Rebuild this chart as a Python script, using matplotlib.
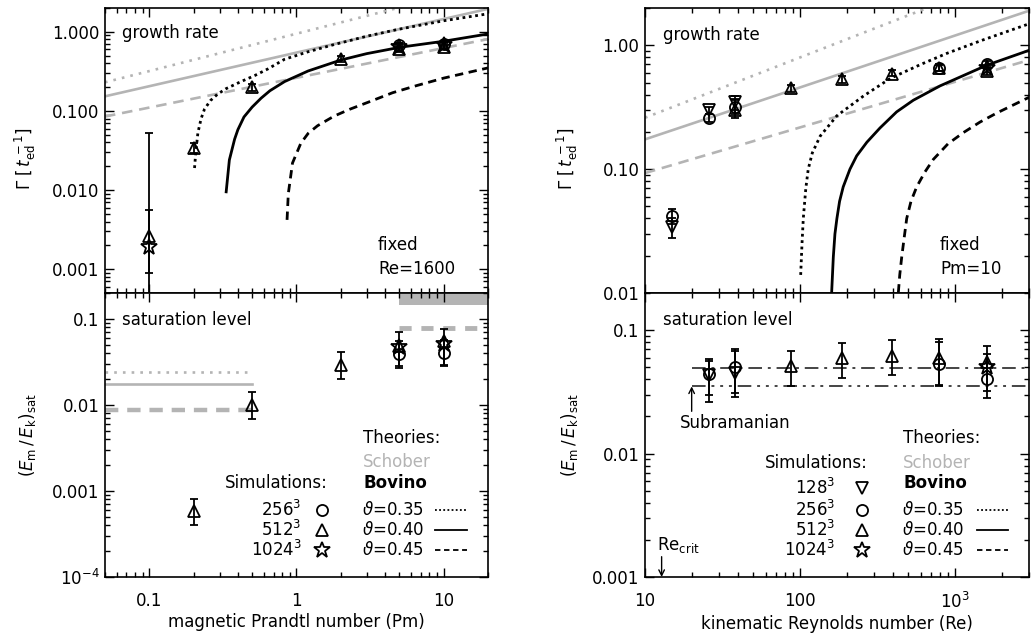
import numpy as np
import matplotlib
matplotlib.use('Agg')
import matplotlib.pyplot as plt
from matplotlib.ticker import LogLocator, NullFormatter

plt.rcParams['font.family'] = ['DejaVu Sans']
plt.rcParams['mathtext.fontset'] = 'dejavusans'

GRAY = '#b4b4b4'

# ================= DATA =================
# --- growth rate vs Pm (Re = 1600) ---
pmG_256 = [5, 10]
gPm_256 = [0.68, 0.70]
gPm_256_lo = [0.64, 0.66]
gPm_256_hi = [0.72, 0.74]
pmG_512 = [0.1, 0.2, 0.5, 2, 5, 10]
gPm_512 = [0.0026, 0.034, 0.20, 0.45, 0.61, 0.65]
gPm_512_lo = [0.0009, 0.029, 0.18, 0.41, 0.55, 0.60]
gPm_512_hi = [0.0056, 0.039, 0.22, 0.49, 0.68, 0.71]
pmG_1024 = [0.1, 5, 10]
gPm_1024 = [0.0019, 0.65, 0.68]
gPm_1024_lo = [0.00001, 0.60, 0.63]
gPm_1024_hi = [0.052, 0.72, 0.74]

# theory curves (growth rate vs Pm)
schPm_x = [0.05, 20]
schPm_035 = [0.23, 3.9]
schPm_040 = [0.153, 1.95]
schPm_045 = [0.085, 0.81]
bovPm_035_x = [0.203, 0.207, 0.214, 0.225, 0.237, 0.26, 0.29, 0.33, 0.42, 0.52, 0.64, 0.83,
               1.2, 1.8, 3.0, 4.85, 10, 20]
bovPm_035_y = [0.019, 0.030, 0.053, 0.080, 0.105, 0.135, 0.162, 0.19, 0.235, 0.28, 0.34, 0.45,
               0.56, 0.69, 0.88, 1.07, 1.38, 1.69]
bovPm_040_x = [0.333, 0.35, 0.38, 0.40, 0.44, 0.50, 0.575, 0.66, 0.83, 1.2, 2.0, 3.0, 5.1,
               10, 20]
bovPm_040_y = [0.0095, 0.024, 0.044, 0.058, 0.084, 0.112, 0.145, 0.180, 0.235, 0.32, 0.44,
               0.53, 0.64, 0.76, 0.94]
bovPm_045_x = [0.863, 0.88, 0.94, 1.07, 1.2, 1.39, 1.8, 2.3, 3.04, 4.5, 6.6, 10, 20]
bovPm_045_y = [0.0042, 0.009, 0.022, 0.039, 0.052, 0.065, 0.086, 0.105, 0.128, 0.17, 0.21,
               0.26, 0.35]

# --- saturation level vs Pm ---
pmS_256 = [5, 10]
sPm_256 = [0.039, 0.040]
sPm_256_lo = [0.028, 0.029]
sPm_256_hi = [0.055, 0.057]
pmS_512 = [0.2, 0.5, 2, 5, 10]
sPm_512 = [5.9e-4, 0.0100, 0.029, 0.049, 0.055]
sPm_512_lo = [4.0e-4, 0.0068, 0.020, 0.027, 0.028]
sPm_512_hi = [8.0e-4, 0.014, 0.041, 0.070, 0.076]
pmS_1024 = [5, 10]
sPm_1024 = [0.047, 0.051]

schSat_low_x = [0.05, 0.5]
schSat_low_035 = 0.024
schSat_low_040 = 0.0174
schSat_low_045 = 0.0088
schSat_high_x = [5, 20]
schSat_high_band = [0.146, 0.2]
schSat_high_045 = 0.079

# --- growth rate vs Re (Pm = 10) ---
reG_128 = [15, 26, 38]
gRe_128 = [0.034, 0.30, 0.35]
gRe_128_lo = [0.028, 0.28, 0.30]
gRe_128_hi = [0.040, 0.32, 0.39]
reG_256 = [15, 26, 38, 790, 1600]
gRe_256 = [0.042, 0.26, 0.32, 0.66, 0.70]
gRe_256_lo = [0.036, 0.24, 0.28, 0.62, 0.66]
gRe_256_hi = [0.048, 0.28, 0.36, 0.70, 0.74]
reG_512 = [38, 87, 187, 390, 790, 1600]
gRe_512 = [0.30, 0.45, 0.53, 0.59, 0.65, 0.62]
gRe_512_lo = [0.26, 0.42, 0.50, 0.56, 0.62, 0.58]
gRe_512_hi = [0.37, 0.48, 0.57, 0.63, 0.69, 0.67]
reG_1024 = [1600]
gRe_1024 = [0.65]

schRe_x035 = [10, 660]
schRe_035 = [0.26, 2.0]
schRe_x = [10, 3000]
schRe_040 = [0.174, 1.9]
schRe_045 = [0.093, 0.76]
bovRe_035_x = [101, 103, 105, 109, 113, 120, 135, 173, 257, 382, 600, 884, 1500, 3000]
bovRe_035_y = [0.014, 0.025, 0.040, 0.070, 0.100, 0.135, 0.185, 0.27, 0.39, 0.54, 0.70,
               0.86, 1.10, 1.49]
bovRe_040_x = [160, 164, 168, 173, 180, 190, 210, 232, 270, 328, 420, 538, 800, 1600, 3000]
bovRe_040_y = [0.0101, 0.0195, 0.030, 0.040, 0.055, 0.072, 0.100, 0.128, 0.165, 0.215,
               0.29, 0.36, 0.47, 0.69, 0.91]
bovRe_045_x = [431, 440, 453, 470, 488, 520, 566, 640, 725, 900, 1130, 1450, 1860, 3000]
bovRe_045_y = [0.0101, 0.014, 0.0195, 0.028, 0.040, 0.055, 0.072, 0.095, 0.12, 0.16, 0.197,
               0.24, 0.284, 0.38]

# --- saturation level vs Re ---
reS_128 = [26, 38]
sRe_128 = [0.043, 0.045]
sRe_128_lo = [0.026, 0.029]
sRe_128_hi = [0.058, 0.070]
reS_256 = [26, 38, 790, 1600]
sRe_256 = [0.044, 0.050, 0.053, 0.040]
sRe_256_lo = [0.030, 0.031, 0.035, 0.028]
sRe_256_hi = [0.056, 0.068, 0.080, 0.064]
reS_512 = [87, 187, 390, 790, 1600]
sRe_512 = [0.051, 0.060, 0.062, 0.060, 0.055]
sRe_512_lo = [0.035, 0.041, 0.043, 0.036, 0.032]
sRe_512_hi = [0.068, 0.079, 0.083, 0.085, 0.075]
reS_1024 = [1600]
sRe_1024 = [0.050]

subr_x = [20, 3000]
subr_upper = 0.049
subr_lower = 0.035
subr_arrow_from = 0.022
re_crit = 12.8

# tick labels
pm_ticks = [0.1, 1, 10]
pm_ticklabels = ['0.1', '1', '10']
re_ticks = [10, 100, 1000]
re_ticklabels = ['10', '100', r'$10^3$']
gPm_ticks = [0.001, 0.01, 0.1, 1]
gPm_ticklabels = ['0.001', '0.010', '0.100', '1.000']
sPm_ticks = [1e-4, 0.001, 0.01, 0.1]
sPm_ticklabels = [r'$10^{-4}$', '0.001', '0.01', '0.1']
gRe_ticks = [0.01, 0.1, 1]
gRe_ticklabels = ['0.01', '0.10', '1.00']
sRe_ticks = [0.001, 0.01, 0.1]
sRe_ticklabels = ['0.001', '0.01', '0.1']

# ================= PLOT =================
fig = plt.figure(figsize=(10.33, 6.36), dpi=100)
axLT = fig.add_axes([0.1016, 0.5393, 0.3708, 0.4481])
axLB = fig.add_axes([0.1016, 0.0928, 0.3708, 0.4465])
axRT = fig.add_axes([0.6244, 0.5393, 0.3717, 0.4481])
axRB = fig.add_axes([0.6244, 0.0928, 0.3717, 0.4465])

FS = 12


def style(ax, xlim, ylim, xt, xtl, yt, ytl, showx):
    ax.set_xscale('log')
    ax.set_yscale('log')
    ax.set_xlim(*xlim)
    ax.set_ylim(*ylim)
    ax.set_xticks(xt)
    ax.set_xticklabels(xtl if showx else [''] * len(xt))
    ax.set_yticks(yt)
    ax.set_yticklabels(ytl)
    for a in (ax.xaxis, ax.yaxis):
        a.set_minor_locator(LogLocator(base=10, subs=np.arange(2, 10), numticks=50))
        a.set_minor_formatter(NullFormatter())
    ax.tick_params(which='both', direction='in', top=True, right=True, width=1.0)
    ax.tick_params(which='major', length=6.5, labelsize=FS)
    ax.tick_params(axis='x', which='major', pad=11)
    ax.tick_params(axis='y', which='major', pad=4)
    ax.tick_params(which='minor', length=3.5)
    for s in ax.spines.values():
        s.set_linewidth(1.2)


def errpts(ax, x, y, lo, hi):
    y = np.asarray(y, float)
    ax.errorbar(x, y, yerr=[y - np.asarray(lo), np.asarray(hi) - y], fmt='none',
                ecolor='k', elinewidth=1.3, capsize=3, capthick=1.3, zorder=4)


MK = dict(ls='none', mfc='none', mec='k', mew=1.3, zorder=5)
MSZ = {'o': 8, '^': 8.5, 'v': 8.5, '*': 12}


def pts(ax, x, y, m):
    ax.plot(x, y, marker=m, ms=MSZ[m], **MK)


DOT_G = dict(color=GRAY, lw=1.9, dashes=(1, 2.3))
SOL_G = dict(color=GRAY, lw=1.9)
DSH_G = dict(color=GRAY, lw=1.9, dashes=(4, 2.6))
DOT_K = dict(color='k', lw=2.0, dashes=(1, 1.3))
SOL_K = dict(color='k', lw=2.0)
DSH_K = dict(color='k', lw=2.0, dashes=(3, 2))

# ---- left top ----
ax = axLT
style(ax, (0.05, 20), (5e-4, 2), pm_ticks, pm_ticklabels, gPm_ticks, gPm_ticklabels, False)
ax.plot(schPm_x, schPm_035, **DOT_G)
ax.plot(schPm_x, schPm_040, **SOL_G)
ax.plot(schPm_x, schPm_045, **DSH_G)
ax.plot(bovPm_035_x, bovPm_035_y, **DOT_K)
ax.plot(bovPm_040_x, bovPm_040_y, **SOL_K)
ax.plot(bovPm_045_x, bovPm_045_y, **DSH_K)
errpts(ax, pmG_1024, gPm_1024, gPm_1024_lo, gPm_1024_hi)
errpts(ax, pmG_512, gPm_512, gPm_512_lo, gPm_512_hi)
errpts(ax, pmG_256, gPm_256, gPm_256_lo, gPm_256_hi)
pts(ax, pmG_256, gPm_256, 'o')
pts(ax, pmG_512, gPm_512, '^')
pts(ax, pmG_1024, gPm_1024, '*')
ax.text(0.044, 0.912, 'growth rate', transform=ax.transAxes, fontsize=FS, va='center')
ax.text(0.713, 0.168, 'fixed', transform=ax.transAxes, fontsize=FS, va='center')
ax.text(0.713, 0.084, 'Re=1600', transform=ax.transAxes, fontsize=FS, va='center')
ax.set_ylabel(r'$\Gamma\ [\,t_{\mathrm{ed}}^{\,-1}]$', fontsize=FS)
ax.yaxis.set_label_coords(-0.176, 0.47)

# ---- left bottom ----
ax = axLB
style(ax, (0.05, 20), (1e-4, 0.2), pm_ticks, pm_ticklabels, sPm_ticks, sPm_ticklabels, True)
ax.plot(schSat_low_x, [schSat_low_035] * 2, **DOT_G)
ax.plot(schSat_low_x, [schSat_low_040] * 2, **SOL_G)
ax.plot(schSat_low_x, [schSat_low_045] * 2, color=GRAY, lw=3.2, dashes=(3, 2))
ax.fill_between(schSat_high_x, schSat_high_band[0], schSat_high_band[1], color=GRAY, lw=0)
ax.plot(schSat_high_x, [schSat_high_045] * 2, color=GRAY, lw=3.5, dashes=(2.5, 2))
errpts(ax, pmS_512, sPm_512, sPm_512_lo, sPm_512_hi)
errpts(ax, pmS_256, sPm_256, sPm_256_lo, sPm_256_hi)
pts(ax, pmS_256, sPm_256, 'o')
pts(ax, pmS_512, sPm_512, '^')
pts(ax, pmS_1024, sPm_1024, '*')
ax.text(0.044, 0.905, 'saturation level', transform=ax.transAxes, fontsize=FS, va='center')
ax.set_ylabel(r'$(E_{\mathrm{m}}\,/\,E_{\mathrm{k}})_{\mathrm{sat}}$', fontsize=FS)
ax.yaxis.set_label_coords(-0.176, 0.5)
ax.set_xlabel('magnetic Prandtl number (Pm)', fontsize=FS, labelpad=2)

# legend (left)
T = ax.transAxes
ax.text(0.674, 0.489, 'Theories:', transform=T, fontsize=FS, va='center')
ax.text(0.674, 0.405, 'Schober', transform=T, fontsize=FS, va='center', color=GRAY)
ax.text(0.674, 0.331, 'Bovino', transform=T, fontsize=FS, va='center', fontweight='bold')
ax.text(0.582, 0.331, 'Simulations:', transform=T, fontsize=FS, va='center', ha='right')
rowsL = [(r'$256^3$', 'o', r'$\vartheta$=0.35', DOT_K, 0.236),
         (r'$512^3$', '^', r'$\vartheta$=0.40', SOL_K, 0.165),
         (r'$1024^3$', '*', r'$\vartheta$=0.45', DSH_K, 0.095)]
for lab, m, th, sty, yy in rowsL:
    ax.text(0.514, yy, lab, transform=T, fontsize=FS, va='center', ha='right')
    ax.plot([0.567], [yy], marker=m, ms=MSZ[m], transform=T, clip_on=False, **MK)
    ax.text(0.671, yy, th, transform=T, fontsize=FS, va='center')
    s = dict(sty)
    s['lw'] = 1.3
    ax.plot([0.862, 0.945], [yy, yy], transform=T, **s)

# ---- right top ----
ax = axRT
style(ax, (10, 3000), (0.01, 2), re_ticks, re_ticklabels, gRe_ticks, gRe_ticklabels, False)
ax.plot(schRe_x035, schRe_035, **DOT_G)
ax.plot(schRe_x, schRe_040, **SOL_G)
ax.plot(schRe_x, schRe_045, **DSH_G)
ax.plot(bovRe_035_x, bovRe_035_y, **DOT_K)
ax.plot(bovRe_040_x, bovRe_040_y, **SOL_K)
ax.plot(bovRe_045_x, bovRe_045_y, **DSH_K)
errpts(ax, reG_128, gRe_128, gRe_128_lo, gRe_128_hi)
errpts(ax, reG_256, gRe_256, gRe_256_lo, gRe_256_hi)
errpts(ax, reG_512, gRe_512, gRe_512_lo, gRe_512_hi)
pts(ax, reG_128, gRe_128, 'v')
pts(ax, reG_256, gRe_256, 'o')
pts(ax, reG_512, gRe_512, '^')
pts(ax, reG_1024, gRe_1024, '*')
ax.text(0.047, 0.905, 'growth rate', transform=ax.transAxes, fontsize=FS, va='center')
ax.text(0.768, 0.168, 'fixed', transform=ax.transAxes, fontsize=FS, va='center')
ax.text(0.768, 0.084, 'Pm=10', transform=ax.transAxes, fontsize=FS, va='center')
ax.set_ylabel(r'$\Gamma\ [\,t_{\mathrm{ed}}^{\,-1}]$', fontsize=FS)
ax.yaxis.set_label_coords(-0.17, 0.47)

# ---- right bottom ----
ax = axRB
style(ax, (10, 3000), (0.001, 0.2), re_ticks, re_ticklabels, sRe_ticks, sRe_ticklabels, True)
ax.plot(subr_x, [subr_upper] * 2, color='#444444', lw=1.4, dashes=(7, 3, 1.5, 3))
ax.plot(subr_x, [subr_lower] * 2, color='#444444', lw=1.4,
        dashes=(7, 3, 1.5, 3, 1.5, 3, 1.5, 3))
ax.annotate('', xy=(subr_x[0], subr_lower), xytext=(subr_x[0], subr_arrow_from),
            arrowprops=dict(arrowstyle='->', lw=1.0, color='k', shrinkA=0, shrinkB=0))
ax.text(0.091, 0.542, 'Subramanian', transform=ax.transAxes, fontsize=FS, va='center')
ax.annotate('', xy=(re_crit, 0.001), xytext=(re_crit, 0.00146),
            arrowprops=dict(arrowstyle='->', lw=1.0, color='k', shrinkA=0, shrinkB=0))
ax.text(0.031, 0.113, r'Re$_{\mathrm{crit}}$', transform=ax.transAxes, fontsize=FS, va='center')
errpts(ax, reS_128, sRe_128, sRe_128_lo, sRe_128_hi)
errpts(ax, reS_256, sRe_256, sRe_256_lo, sRe_256_hi)
errpts(ax, reS_512, sRe_512, sRe_512_lo, sRe_512_hi)
pts(ax, reS_128, sRe_128, 'v')
pts(ax, reS_256, sRe_256, 'o')
pts(ax, reS_512, sRe_512, '^')
pts(ax, reS_1024, sRe_1024, '*')
ax.text(0.047, 0.905, 'saturation level', transform=ax.transAxes, fontsize=FS, va='center')
ax.set_ylabel(r'$(E_{\mathrm{m}}\,/\,E_{\mathrm{k}})_{\mathrm{sat}}$', fontsize=FS)
ax.yaxis.set_label_coords(-0.17, 0.5)
ax.set_xlabel('kinematic Reynolds number (Re)', fontsize=FS, labelpad=2)

T = ax.transAxes
ax.text(0.672, 0.489, 'Theories:', transform=T, fontsize=FS, va='center')
ax.text(0.672, 0.401, 'Schober', transform=T, fontsize=FS, va='center', color=GRAY)
ax.text(0.672, 0.331, 'Bovino', transform=T, fontsize=FS, va='center', fontweight='bold')
ax.text(0.581, 0.401, 'Simulations:', transform=T, fontsize=FS, va='center', ha='right')
rowsR = [(r'$128^3$', 'v', None, None, 0.313),
         (r'$256^3$', 'o', r'$\vartheta$=0.35', DOT_K, 0.236),
         (r'$512^3$', '^', r'$\vartheta$=0.40', SOL_K, 0.165),
         (r'$1024^3$', '*', r'$\vartheta$=0.45', DSH_K, 0.095)]
for lab, m, th, sty, yy in rowsR:
    ax.text(0.495, yy, lab, transform=T, fontsize=FS, va='center', ha='right')
    ax.plot([0.565], [yy], marker=m, ms=MSZ[m], transform=T, clip_on=False, **MK)
    if th is not None:
        ax.text(0.669, yy, th, transform=T, fontsize=FS, va='center')
        s = dict(sty)
        s['lw'] = 1.3
        ax.plot([0.865, 0.945], [yy, yy], transform=T, **s)

fig.savefig('out.png', dpi=100)
